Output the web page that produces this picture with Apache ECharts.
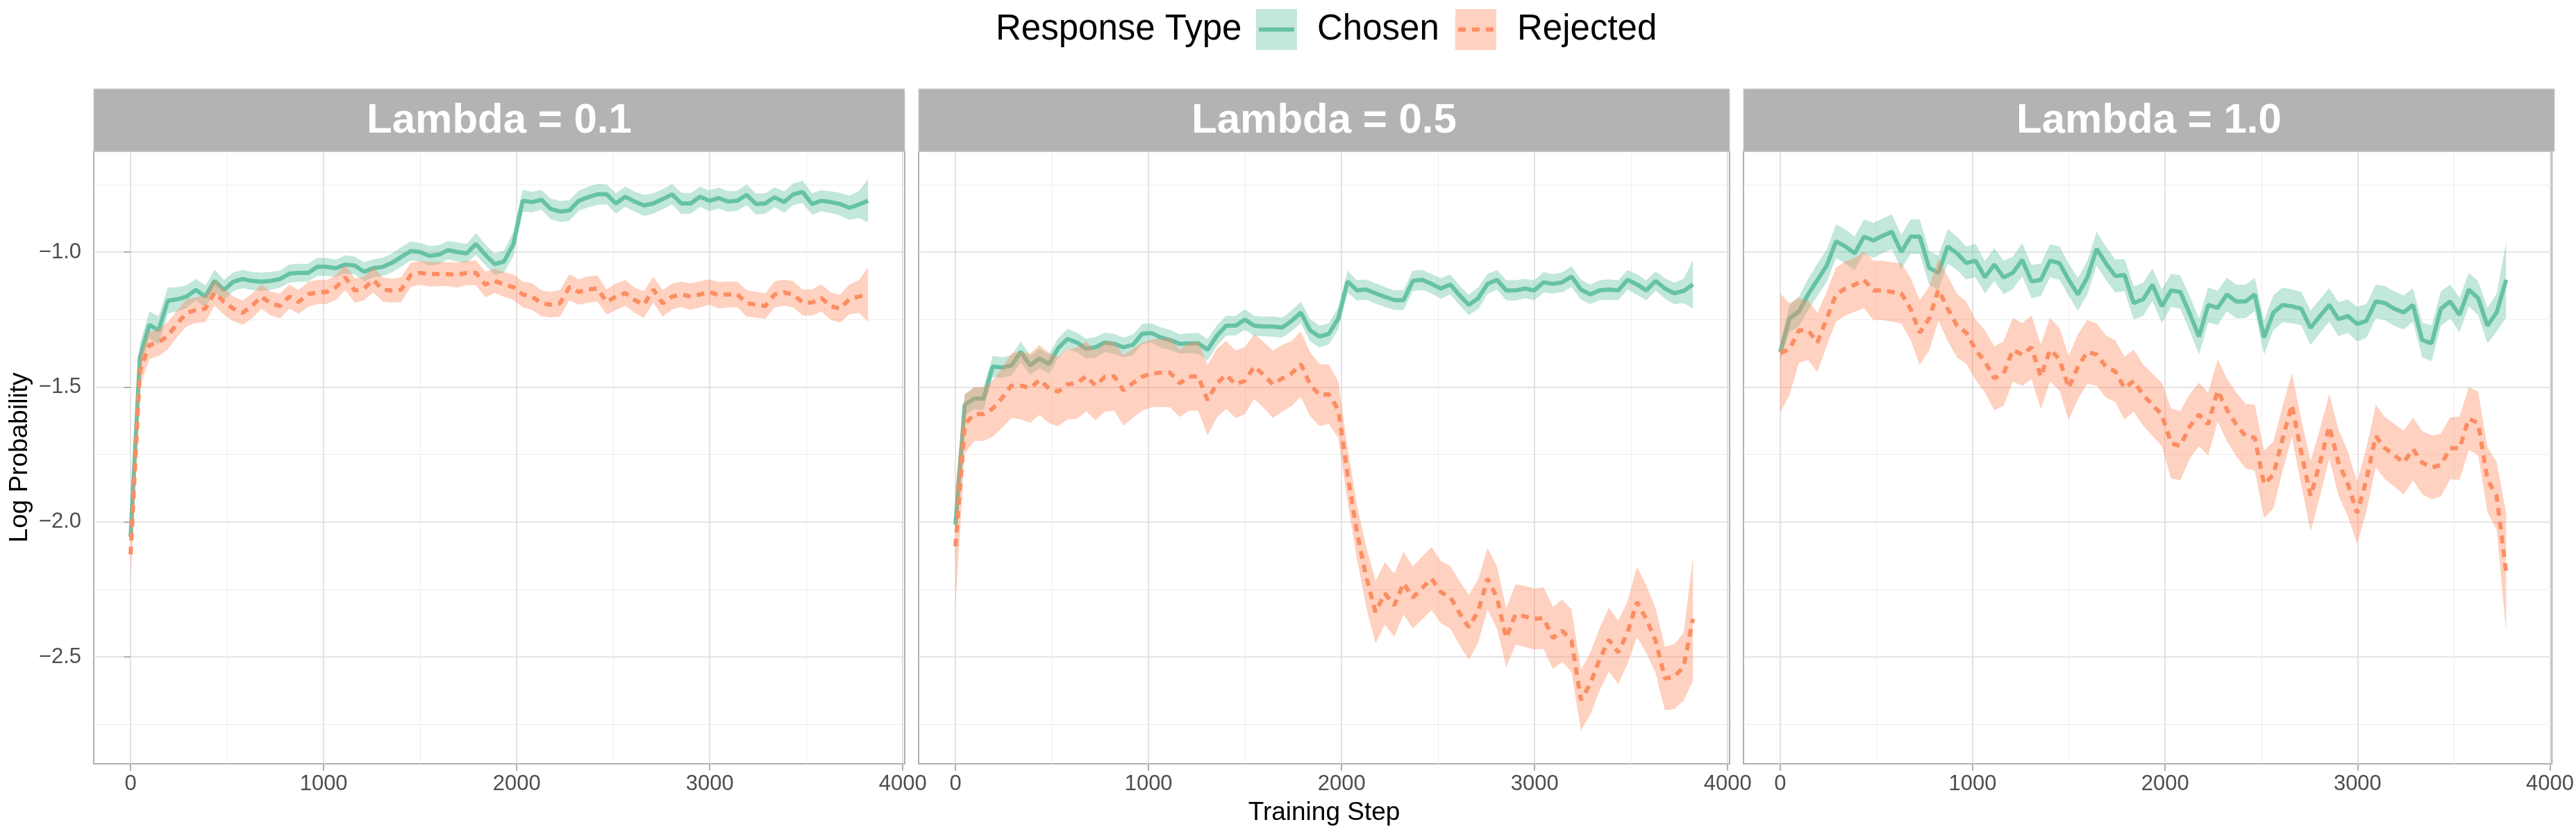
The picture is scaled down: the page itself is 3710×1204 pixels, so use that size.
<!DOCTYPE html>
<html><head><meta charset="utf-8">
<script src="https://cdn.jsdelivr.net/npm/echarts@6/dist/echarts.min.js"></script>
<style>html,body{margin:0;padding:0;background:#fff}#c{width:3710px;height:1204px}</style>
</head><body><div id="c"></div>
<script>
// ---------- DATA ----------
const steps = [0,48,97,145,193,242,290,338,387,435,484,532,580,629,677,725,774,822,870,919,
  967,1015,1064,1112,1161,1209,1257,1306,1354,1402,1451,1499,1547,1596,1644,1692,1741,1789,1837,1886,
  1934,1983,2031,2079,2128,2176,2224,2273,2321,2369,2418,2466,2514,2563,2611,2659,2708,2756,2805,2853,
  2901,2950,2998,3046,3095,3143,3191,3240,3288,3336,3385,3433,3481,3530,3578,3627,3675,3723,3772,3820];
const panelTitles = ['Lambda = 0.1','Lambda = 0.5','Lambda = 1.0'];
const seriesNames = ['Chosen','Rejected'];
const xTicks = [0,1000,2000,3000,4000];
const yTicks = [-2.5,-2.0,-1.5,-1.0];

// Lambda = 0.1
const chosen01 = [-2.056,-1.39,-1.27,-1.29,-1.18,-1.175,-1.165,-1.14,-1.165,-1.107,
 -1.14,-1.11,-1.10,-1.107,-1.11,-1.107,-1.10,-1.08,-1.077,-1.077,
 -1.055,-1.055,-1.06,-1.046,-1.05,-1.073,-1.06,-1.055,-1.04,-1.018,
 -0.996,-1.0,-1.014,-1.01,-0.993,-1.0,-1.005,-0.97,-1.01,-1.045,
 -1.035,-0.97,-0.81,-0.815,-0.806,-0.84,-0.85,-0.846,-0.81,-0.797,
 -0.786,-0.786,-0.82,-0.795,-0.813,-0.827,-0.82,-0.804,-0.786,-0.82,
 -0.82,-0.795,-0.81,-0.80,-0.813,-0.81,-0.788,-0.822,-0.82,-0.797,
 -0.815,-0.786,-0.777,-0.822,-0.81,-0.815,-0.822,-0.836,-0.824,-0.81];
const chosen01Se = [0.02,0.05,0.05,0.052,0.048,0.045,0.042,0.04,0.04,0.042,
 0.036,0.035,0.034,0.033,0.034,0.033,0.032,0.034,0.033,0.033,
 0.034,0.033,0.032,0.034,0.033,0.035,0.033,0.034,0.035,0.036,
 0.035,0.034,0.036,0.035,0.034,0.036,0.035,0.04,0.038,0.04,
 0.041,0.045,0.04,0.038,0.037,0.038,0.039,0.038,0.037,0.038,
 0.039,0.037,0.038,0.038,0.037,0.039,0.038,0.037,0.038,0.039,
 0.038,0.037,0.038,0.039,0.038,0.037,0.038,0.039,0.038,0.037,
 0.039,0.04,0.041,0.04,0.039,0.04,0.042,0.045,0.05,0.08];
const rejected01 = [-2.12,-1.44,-1.345,-1.335,-1.31,-1.265,-1.225,-1.215,-1.21,-1.15,
 -1.185,-1.21,-1.225,-1.20,-1.165,-1.19,-1.20,-1.165,-1.185,-1.157,
 -1.148,-1.148,-1.13,-1.094,-1.143,-1.135,-1.103,-1.139,-1.143,-1.139,
 -1.085,-1.077,-1.082,-1.082,-1.082,-1.085,-1.077,-1.077,-1.12,-1.107,
 -1.12,-1.13,-1.157,-1.165,-1.19,-1.195,-1.19,-1.13,-1.148,-1.139,
 -1.135,-1.185,-1.165,-1.152,-1.178,-1.195,-1.139,-1.19,-1.165,-1.157,
 -1.165,-1.157,-1.148,-1.16,-1.157,-1.157,-1.19,-1.195,-1.20,-1.157,
 -1.15,-1.157,-1.187,-1.187,-1.17,-1.20,-1.21,-1.175,-1.165,-1.157];
const rejected01Se = [0.10,0.06,0.052,0.05,0.05,0.049,0.05,0.048,0.05,0.049,
 0.048,0.046,0.045,0.046,0.045,0.044,0.046,0.045,0.044,0.046,
 0.045,0.044,0.046,0.047,0.045,0.044,0.046,0.045,0.044,0.046,
 0.045,0.044,0.046,0.045,0.044,0.046,0.045,0.046,0.047,0.045,
 0.046,0.047,0.048,0.049,0.048,0.047,0.049,0.048,0.047,0.049,
 0.048,0.047,0.049,0.048,0.047,0.049,0.048,0.049,0.048,0.047,
 0.049,0.048,0.047,0.049,0.048,0.047,0.049,0.048,0.047,0.049,
 0.048,0.049,0.048,0.049,0.05,0.051,0.052,0.055,0.06,0.10];

// Lambda = 0.5
const chosen05 = [-2.01,-1.566,-1.543,-1.543,-1.424,-1.428,-1.42,-1.37,-1.42,-1.394,
 -1.415,-1.356,-1.322,-1.335,-1.358,-1.353,-1.335,-1.34,-1.353,-1.344,
 -1.303,-1.30,-1.317,-1.326,-1.34,-1.338,-1.338,-1.362,-1.31,-1.273,
 -1.273,-1.25,-1.273,-1.276,-1.276,-1.28,-1.255,-1.224,-1.29,-1.313,
 -1.303,-1.246,-1.109,-1.142,-1.139,-1.153,-1.166,-1.178,-1.178,-1.107,
 -1.103,-1.118,-1.135,-1.12,-1.16,-1.196,-1.171,-1.118,-1.103,-1.142,
 -1.142,-1.135,-1.142,-1.112,-1.118,-1.112,-1.091,-1.139,-1.157,-1.142,
 -1.139,-1.142,-1.103,-1.12,-1.142,-1.107,-1.135,-1.153,-1.144,-1.12];
const chosen05Se = [0.03,0.04,0.04,0.042,0.04,0.038,0.037,0.038,0.036,0.037,
 0.036,0.037,0.038,0.036,0.037,0.038,0.036,0.037,0.036,0.038,
 0.037,0.036,0.038,0.037,0.036,0.037,0.038,0.04,0.038,0.037,
 0.036,0.038,0.037,0.036,0.038,0.037,0.038,0.04,0.042,0.04,
 0.039,0.04,0.04,0.038,0.037,0.038,0.037,0.036,0.037,0.038,
 0.037,0.036,0.038,0.037,0.036,0.038,0.04,0.037,0.036,0.037,
 0.038,0.036,0.037,0.038,0.036,0.037,0.038,0.037,0.036,0.037,
 0.038,0.037,0.036,0.038,0.037,0.036,0.038,0.04,0.045,0.09];
const rejected05 = [-2.09,-1.638,-1.60,-1.60,-1.58,-1.54,-1.495,-1.495,-1.504,-1.474,
 -1.504,-1.517,-1.49,-1.486,-1.46,-1.495,-1.462,-1.46,-1.513,-1.486,
 -1.462,-1.45,-1.447,-1.447,-1.486,-1.462,-1.46,-1.549,-1.486,-1.455,
 -1.49,-1.477,-1.424,-1.455,-1.49,-1.468,-1.45,-1.415,-1.49,-1.53,
 -1.527,-1.584,-1.825,-2.035,-2.205,-2.334,-2.265,-2.309,-2.227,-2.28,
 -2.244,-2.21,-2.26,-2.279,-2.338,-2.39,-2.33,-2.21,-2.28,-2.43,
 -2.343,-2.35,-2.36,-2.356,-2.43,-2.403,-2.44,-2.66,-2.6,-2.51,
 -2.436,-2.484,-2.41,-2.297,-2.359,-2.44,-2.58,-2.573,-2.537,-2.359];
const rejected05Se = [0.22,0.11,0.10,0.10,0.105,0.11,0.12,0.125,0.128,0.13,
 0.13,0.128,0.13,0.132,0.13,0.128,0.13,0.127,0.13,0.128,
 0.126,0.125,0.127,0.128,0.125,0.126,0.128,0.13,0.127,0.126,
 0.125,0.124,0.12,0.122,0.125,0.124,0.12,0.122,0.118,0.115,
 0.11,0.105,0.1,0.1,0.112,0.116,0.115,0.117,0.116,0.115,
 0.116,0.117,0.115,0.116,0.118,0.12,0.118,0.114,0.115,0.11,
 0.112,0.113,0.113,0.114,0.115,0.116,0.115,0.112,0.115,0.116,
 0.118,0.117,0.116,0.13,0.125,0.12,0.118,0.12,0.125,0.23];

// Lambda = 1.0
const chosen10 = [-1.37,-1.246,-1.22,-1.157,-1.103,-1.05,-0.96,-0.979,-1.005,-0.943,
 -0.957,-0.94,-0.925,-1.0,-0.943,-0.943,-1.059,-1.077,-0.979,-1.005,
 -1.041,-1.032,-1.094,-1.046,-1.094,-1.077,-1.029,-1.109,-1.103,-1.032,
 -1.041,-1.103,-1.157,-1.094,-0.988,-1.041,-1.089,-1.085,-1.189,-1.175,
 -1.121,-1.201,-1.142,-1.148,-1.228,-1.313,-1.196,-1.207,-1.157,-1.183,
 -1.183,-1.157,-1.317,-1.224,-1.196,-1.201,-1.21,-1.281,-1.237,-1.196,
 -1.249,-1.237,-1.267,-1.255,-1.183,-1.189,-1.21,-1.224,-1.196,-1.326,
 -1.338,-1.21,-1.183,-1.233,-1.139,-1.171,-1.273,-1.224,-1.103];
const chosen10Se = [0.03,0.05,0.055,0.058,0.06,0.06,0.062,0.063,0.062,0.064,
 0.065,0.064,0.065,0.063,0.064,0.065,0.062,0.063,0.064,0.062,
 0.061,0.062,0.06,0.061,0.062,0.06,0.061,0.062,0.06,0.061,
 0.062,0.06,0.061,0.062,0.063,0.062,0.061,0.06,0.062,0.061,
 0.06,0.062,0.061,0.062,0.064,0.067,0.065,0.063,0.062,0.063,
 0.062,0.061,0.063,0.065,0.064,0.063,0.062,0.064,0.063,0.062,
 0.063,0.062,0.064,0.063,0.062,0.063,0.064,0.063,0.062,0.065,
 0.066,0.064,0.063,0.064,0.062,0.063,0.066,0.07,0.14];
const rejected10 = [-1.374,-1.36,-1.29,-1.29,-1.335,-1.246,-1.157,-1.135,-1.121,-1.103,
 -1.142,-1.142,-1.148,-1.153,-1.21,-1.299,-1.246,-1.139,-1.21,-1.273,
 -1.299,-1.362,-1.406,-1.468,-1.45,-1.362,-1.38,-1.353,-1.462,-1.362,
 -1.397,-1.504,-1.424,-1.37,-1.38,-1.424,-1.442,-1.504,-1.477,-1.53,
 -1.566,-1.602,-1.709,-1.718,-1.646,-1.602,-1.638,-1.513,-1.584,-1.638,
 -1.682,-1.688,-1.86,-1.825,-1.691,-1.566,-1.744,-1.904,-1.78,-1.646,
 -1.78,-1.86,-1.967,-1.843,-1.682,-1.727,-1.753,-1.78,-1.73,-1.78,
 -1.798,-1.789,-1.727,-1.727,-1.617,-1.635,-1.843,-1.904,-2.186];
const rejected10Se = [0.22,0.17,0.12,0.11,0.11,0.1,0.1,0.1,0.1,0.105,
 0.11,0.11,0.11,0.112,0.115,0.12,0.118,0.115,0.12,0.118,
 0.115,0.112,0.115,0.118,0.12,0.118,0.116,0.118,0.12,0.118,
 0.116,0.118,0.12,0.118,0.116,0.115,0.114,0.116,0.115,0.114,
 0.115,0.118,0.13,0.128,0.12,0.118,0.116,0.115,0.116,0.118,
 0.12,0.122,0.125,0.124,0.12,0.118,0.122,0.13,0.125,0.12,
 0.122,0.12,0.115,0.118,0.116,0.115,0.116,0.118,0.116,0.117,
 0.118,0.116,0.115,0.117,0.116,0.118,0.12,0.125,0.22];

// ---------- CHART ----------
const chosenAll = [chosen01, chosen05, chosen10];
const chosenSeAll = [chosen01Se, chosen05Se, chosen10Se];
const rejectedAll = [rejected01, rejected05, rejected10];
const rejectedSeAll = [rejected01Se, rejected05Se, rejected10Se];

const FONT = '"Liberation Sans", Arial, Helvetica, sans-serif';
const C_GREEN = '#66c2a5', C_ORANGE = '#fc8d62';
const GRID_LEFTS = [135, 1323, 2511];
const GRID_TOP = 218, GRID_H = 882, GRID_W = 1168;
const STRIP_TOP = 128, STRIP_H = 90;
const X_MIN = -191, X_MAX = 4010, Y_MIN = -2.896, Y_MAX = -0.627;

const pts = v => v.map((y, i) => [steps[i], y]);
const fmtY = v => yTicks.some(t => Math.abs(t - v) < 1e-9) ? (v < 0 ? '\u2212' : '') + Math.abs(v).toFixed(1) : '';
const fmtX = v => xTicks.indexOf(v) >= 0 ? String(v) : '';

function ribbonRenderer(vals, se, color) {
  return function (params, api) {
    const upper = vals.map((v, i) => api.coord([steps[i], v + se[i]]));
    const lower = vals.map((v, i) => api.coord([steps[i], v - se[i]])).reverse();
    return {type: 'polygon', shape: {points: upper.concat(lower)},
      style: {fill: color, opacity: 0.4, stroke: null}};
  };
}

const grids = [], xAxes = [], yAxes = [], series = [], graphics = [];
for (let p = 0; p < 3; p++) {
  grids.push({left: GRID_LEFTS[p], top: GRID_TOP, width: GRID_W, height: GRID_H,
    show: true, borderColor: '#b0b0b0', borderWidth: 2, containLabel: false});
  xAxes.push({gridIndex: p, type: 'value', min: X_MIN, max: X_MAX, splitNumber: 5,
    name: p === 1 ? 'Training Step' : '', nameLocation: 'middle', nameGap: 52,
    nameTextStyle: {fontFamily: FONT, fontSize: 37, color: '#000'},
    axisLine: {show: false},
    axisTick: {show: true, length: 10, customValues: xTicks, lineStyle: {color: '#b0b0b0', width: 2}},
    axisLabel: {show: true, customValues: xTicks, formatter: fmtX, color: '#4d4d4d', fontSize: 31, fontFamily: FONT, margin: 14},
    splitLine: {show: true, lineStyle: {color: '#dcdcdc', width: 1.6}},
    minorTick: {show: false, splitNumber: 2},
    minorSplitLine: {show: true, lineStyle: {color: '#ededed', width: 1}}});
  yAxes.push({gridIndex: p, type: 'value', min: Y_MIN, max: Y_MAX, splitNumber: 5,
    name: p === 0 ? 'Log Probability' : '', nameLocation: 'middle', nameGap: 88,
    nameTextStyle: {fontFamily: FONT, fontSize: 37, color: '#000'},
    axisLine: {show: false},
    axisTick: {show: p === 0, length: 10, customValues: yTicks, lineStyle: {color: '#b0b0b0', width: 2}},
    axisLabel: {show: p === 0, customValues: yTicks, formatter: fmtY, color: '#4d4d4d', fontSize: 31, fontFamily: FONT, margin: 18},
    splitLine: {show: true, lineStyle: {color: '#dcdcdc', width: 1.6}},
    minorTick: {show: false, splitNumber: 2},
    minorSplitLine: {show: true, lineStyle: {color: '#ededed', width: 1}}});

  const groups = [
    {vals: chosenAll[p], se: chosenSeAll[p], color: C_GREEN, dash: 'solid', name: seriesNames[0], z: 2},
    {vals: rejectedAll[p], se: rejectedSeAll[p], color: C_ORANGE, dash: [11, 9], name: seriesNames[1], z: 4}
  ];
  groups.forEach(g => {
    series.push({type: 'custom', name: g.name + ' band', xAxisIndex: p, yAxisIndex: p,
      data: [[steps[0], g.vals[0]]], silent: true, clip: true, z: g.z,
      renderItem: ribbonRenderer(g.vals, g.se, g.color)});
    series.push({type: 'line', name: g.name, xAxisIndex: p, yAxisIndex: p, data: pts(g.vals),
      symbol: 'none', silent: true, lineStyle: {color: g.color, width: 6, type: g.dash, cap: 'butt'}, z: g.z + 1});
  });

  // facet strip
  graphics.push({type: 'rect', shape: {x: GRID_LEFTS[p], y: STRIP_TOP, width: GRID_W, height: STRIP_H},
    style: {fill: '#b3b3b3', stroke: '#d0d0d0', lineWidth: 1}, z: 10});
  graphics.push({type: 'text', x: GRID_LEFTS[p] + GRID_W / 2, y: STRIP_TOP + STRIP_H / 2 + 1,
    style: {text: panelTitles[p], fill: '#fff', font: 'bold 60px ' + FONT, textAlign: 'center', textVerticalAlign: 'middle'}, z: 11});
}

// legend
const LEG_Y = 43;
graphics.push({type: 'text', x: 1434, y: LEG_Y, style: {text: 'Response Type', fill: '#000', font: '51px ' + FONT, textAlign: 'left', textVerticalAlign: 'middle'}});
const keys = [{x: 1809, color: C_GREEN, dash: null, label: seriesNames[0], tx: 1897},
              {x: 2096, color: C_ORANGE, dash: [11, 9], label: seriesNames[1], tx: 2185}];
keys.forEach(k => {
  graphics.push({type: 'rect', shape: {x: k.x, y: 13, width: 59, height: 59}, style: {fill: k.color, opacity: 0.4}});
  graphics.push({type: 'line', shape: {x1: k.x + 4, y1: 42.5, x2: k.x + 55, y2: 42.5},
    style: {stroke: k.color, lineWidth: 6, lineDash: k.dash}});
  graphics.push({type: 'text', x: k.tx, y: LEG_Y, style: {text: k.label, fill: '#000', font: '51px ' + FONT, textAlign: 'left', textVerticalAlign: 'middle'}});
});

const chart = echarts.init(document.getElementById('c'), null, {renderer: 'canvas', width: 3710, height: 1204});
chart.setOption({
  animation: false,
  backgroundColor: '#ffffff',
  grid: grids, xAxis: xAxes, yAxis: yAxes, series: series, graphic: graphics
});
</script></body></html>
